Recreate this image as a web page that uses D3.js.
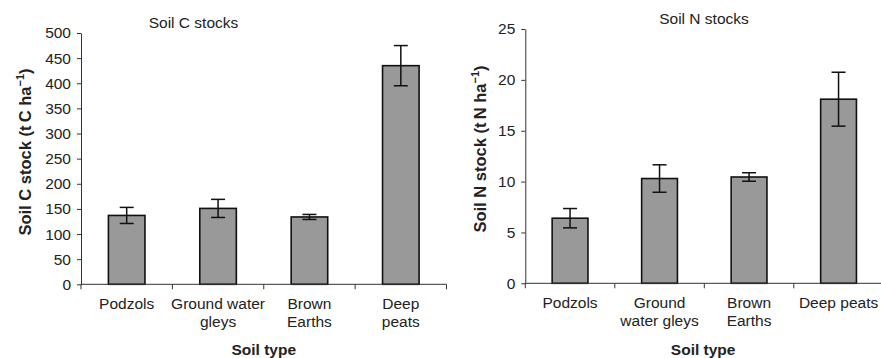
<!DOCTYPE html>
<html>
<head>
<meta charset="utf-8">
<script src="https://cdn.jsdelivr.net/npm/d3@7"></script>
<style>
  html, body { margin: 0; padding: 0; background: #fff; }
  svg { display: block; font-family: "Liberation Sans", Arial, sans-serif; }
</style>
</head>
<body>
<svg id="chart" width="881" height="358"></svg>
<script>
// ---- Data ----
const categoriesC = [["Podzols"], ["Ground water", "gleys"], ["Brown", "Earths"], ["Deep", "peats"]];
const categoriesN = [["Podzols"], ["Ground", "water gleys"], ["Brown", "Earths"], ["Deep peats"]];
const soilC = [137, 151, 134, 435];
const soilCErr = [16, 18, 5, 40];
const soilN = [6.4, 10.3, 10.45, 18.1];
const soilNErr = [0.95, 1.35, 0.42, 2.65];
const ticksC = [0, 50, 100, 150, 200, 250, 300, 350, 400, 450, 500];
const ticksN = [0, 5, 10, 15, 20, 25];

const svg = d3.select("#chart");
const FS = 15.5;

function panel(opts) {
  const g = svg.append("g");
  const keys = opts.cats.map(c => c.join(" "));
  const x = d3.scaleBand().domain(keys).range([opts.x0, opts.x1]).paddingInner(0.6).paddingOuter(0.3);
  const y = d3.scaleLinear().domain([0, opts.ymax]).range([opts.y0, opts.y1]);

  // bars
  g.selectAll("rect.bar").data(opts.vals).enter().append("rect")
    .attr("x", (d, i) => x(keys[i]))
    .attr("width", x.bandwidth())
    .attr("y", d => y(d))
    .attr("height", d => y(0) - y(d))
    .attr("fill", "#999999")
    .attr("stroke", "#111")
    .attr("stroke-width", 1.6);

  // error bars
  const cap = 7;
  const eb = g.selectAll("g.err").data(opts.vals).enter().append("g")
    .attr("stroke", "#111").attr("stroke-width", 1.5).attr("fill", "none");
  eb.append("line")
    .attr("x1", (d, i) => x(keys[i]) + x.bandwidth() / 2)
    .attr("x2", (d, i) => x(keys[i]) + x.bandwidth() / 2)
    .attr("y1", (d, i) => y(d + opts.errs[i]))
    .attr("y2", (d, i) => y(d - opts.errs[i]));
  eb.append("line")
    .attr("x1", (d, i) => x(keys[i]) + x.bandwidth() / 2 - cap)
    .attr("x2", (d, i) => x(keys[i]) + x.bandwidth() / 2 + cap)
    .attr("y1", (d, i) => y(d + opts.errs[i]))
    .attr("y2", (d, i) => y(d + opts.errs[i]));
  eb.append("line")
    .attr("x1", (d, i) => x(keys[i]) + x.bandwidth() / 2 - cap)
    .attr("x2", (d, i) => x(keys[i]) + x.bandwidth() / 2 + cap)
    .attr("y1", (d, i) => y(d - opts.errs[i]))
    .attr("y2", (d, i) => y(d - opts.errs[i]));

  // y axis
  const ya = g.append("g").attr("transform", `translate(${opts.x0},0)`)
    .call(d3.axisLeft(y).tickValues(opts.ticks).tickSize(4).tickSizeOuter(0).tickPadding(6));
  ya.select(".domain").attr("stroke", "#333");
  ya.selectAll(".tick line").attr("stroke", "#333");
  ya.selectAll(".tick text").attr("font-size", FS).attr("fill", "#222").attr("font-family", "Liberation Sans, Arial, sans-serif");

  // x axis line
  g.append("line").attr("x1", opts.x0).attr("x2", opts.x1).attr("y1", y(0)).attr("y2", y(0))
    .attr("stroke", "#333").attr("stroke-width", 1);
  // boundary ticks
  const gap = x.step() - x.bandwidth();
  const bounds = keys.map(k => x(k) - gap / 2).concat([opts.x1]);
  g.selectAll("line.bt").data(bounds).enter().append("line")
    .attr("x1", d => d).attr("x2", d => d)
    .attr("y1", y(0)).attr("y2", y(0) + 5)
    .attr("stroke", "#333");

  // category labels
  opts.cats.forEach((lines, i) => {
    const t = g.append("text")
      .attr("x", x(keys[i]) + x.bandwidth() / 2)
      .attr("y", y(0) + 25)
      .attr("text-anchor", "middle")
      .attr("font-size", FS).attr("fill", "#222");
    lines.forEach((ln, j) => {
      t.append("tspan").attr("x", x(keys[i]) + x.bandwidth() / 2)
        .attr("dy", j === 0 ? 0 : 18).text(ln);
    });
  });

  // x title
  g.append("text").attr("x", (opts.x0 + Math.min(opts.x1, 881)) / 2).attr("y", 355)
    .attr("text-anchor", "middle").attr("font-size", FS).attr("font-weight", "bold")
    .attr("fill", "#222").text("Soil type");

  // chart title
  g.append("text").attr("x", opts.titleX).attr("y", opts.titleY)
    .attr("text-anchor", "middle").attr("font-size", FS).attr("fill", "#222").text(opts.title);

  // y title
  const yt = g.append("text")
    .attr("transform", `translate(${opts.ytX},${opts.ytY}) rotate(-90)`)
    .attr("text-anchor", "middle").attr("font-size", 16.5).attr("font-weight", "bold").attr("fill", "#222");
  yt.append("tspan").text(opts.ytitle + " ha");
  yt.append("tspan").attr("dy", -7).attr("font-size", 11).text("\u22121");
  yt.append("tspan").attr("dy", 7).text(")");
}

panel({
  cats: categoriesC, vals: soilC, errs: soilCErr, ticks: ticksC, ymax: 500,
  x0: 81, x1: 446.5, y0: 284.3, y1: 33,
  title: "Soil C stocks", titleX: 193.5, titleY: 28,
  ytitle: "Soil C stock (t\u2009C", ytX: 31, ytY: 152
});
panel({
  cats: categoriesN, vals: soilN, errs: soilNErr, ticks: ticksN, ymax: 25,
  x0: 525.3, x1: 883.3, y0: 283.3, y1: 29,
  title: "Soil N stocks", titleX: 704, titleY: 24,
  ytitle: "Soil N stock (t\u2009N", ytX: 486, ytY: 149
});
</script>
</body>
</html>
